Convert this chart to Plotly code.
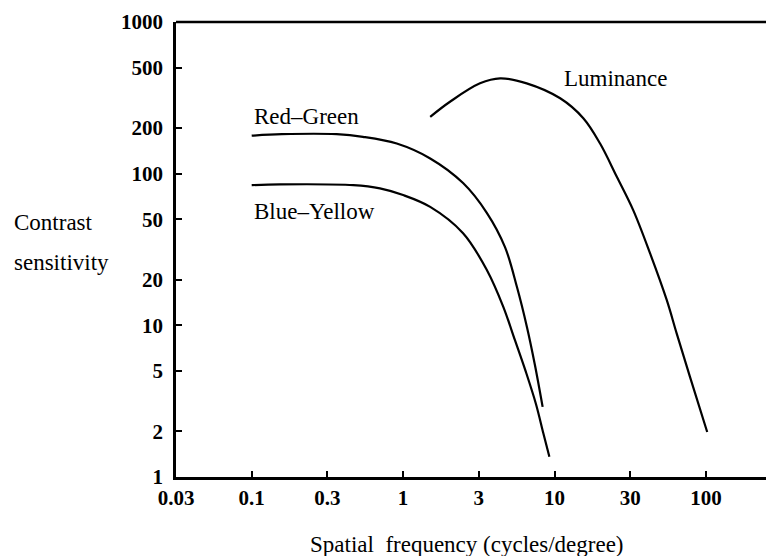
import plotly.graph_objects as go

# Data (spatial frequency in cycles/degree, contrast sensitivity)
rg_freq = [0.1, 0.158, 0.364, 0.543, 0.908, 1.51, 2.49, 3.58, 4.71, 5.65, 6.58, 7.43, 8.35]
rg_sens = [178, 182, 182, 175, 158, 126, 86.7, 55, 32.8, 17.9, 9.73, 5.46, 2.90]

by_freq = [0.1, 0.154, 0.469, 0.703, 1.0, 1.51, 2.49, 3.58, 4.57, 5.48, 6.48, 7.55, 8.43, 9.25]
by_sens = [84, 85, 84, 80, 72.3, 60.4, 40.5, 23.1, 13.4, 7.98, 4.91, 3.02, 1.95, 1.36]

lum_freq = [1.51, 2.04, 3.22, 4.37, 6.55, 10.9, 15.5, 20.0, 25.8, 33.1, 42.8, 55.1, 64.1, 78.5, 102]
lum_sens = [237, 298, 394, 425, 394, 314, 232, 158, 95.4, 57.5, 29.8, 14.7, 8.85, 4.57, 1.98]

x_tickvals = [10 ** (k / 2) for k in range(-3, 5)]
x_ticktext = ["0.03", "0.1", "0.3", "1", "3", "10", "30", "100"]
y_tickvals = [1, 2, 5, 10, 20, 50, 100, 200, 500, 1000]
y_ticktext = ["1", "2", "5", "10", "20", "50", "100", "200", "500", "1000"]

FONT = "Liberation Serif, Times New Roman, serif"

fig = go.Figure()
for fx, fy, name in [(rg_freq, rg_sens, "Red-Green"), (by_freq, by_sens, "Blue-Yellow"),
                     (lum_freq, lum_sens, "Luminance")]:
    fig.add_trace(go.Scatter(x=fx, y=fy, mode="lines", name=name,
                             line=dict(color="black", width=2.2, shape="spline", smoothing=1.0)))

# page body has an 8px margin; compensate so the plot lands where the reference has it
OFF = 8
W, H = 774 - OFF, 556 - OFF
L, R, T = 176 - OFF, 0, 22 - OFF
B = H - T - (477 - 22)
fig.update_layout(
    width=W, height=H,
    margin=dict(l=L, r=R, t=T, b=B, pad=0),
    paper_bgcolor="white", plot_bgcolor="white",
    showlegend=False,
    font=dict(family=FONT, color="black"),
)
fig.update_xaxes(
    type="log", range=[-1.5, -1.5 + (W - L) / 151.4],
    tickvals=x_tickvals, ticktext=x_ticktext,
    ticks="inside", ticklen=6, tickwidth=2, tickcolor="black",
    showline=True, linecolor="black", linewidth=2.5,
    showgrid=False, zeroline=False,
    tickfont=dict(family=FONT, size=21, color="black", weight="bold"),
    ticklabelstandoff=0,
)
fig.update_yaxes(
    type="log", range=[0, 3],
    tickvals=y_tickvals, ticktext=y_ticktext,
    ticks="inside", ticklen=6, tickwidth=2, tickcolor="black",
    showline=True, linecolor="black", linewidth=2.5,
    showgrid=False, zeroline=False,
    tickfont=dict(family=FONT, size=21, color="black", weight="bold"),
    ticklabelstandoff=6,
)
# top frame line
fig.add_shape(type="line", xref="paper", yref="paper", x0=0, x1=1, y0=1, y1=1,
              line=dict(color="black", width=2.5))

ann_font = dict(family=FONT, size=23, color="black")
fig.add_annotation(x=-1.0, y=2.375, xref="x", yref="y", text="Red–Green", showarrow=False,
                   xanchor="left", yanchor="middle", font=ann_font)
fig.add_annotation(x=-1.0, y=1.749, xref="x", yref="y", text="Blue–Yellow", showarrow=False,
                   xanchor="left", yanchor="middle", font=ann_font)
fig.add_annotation(x=1.048, y=2.629, xref="x", yref="y", text="Luminance", showarrow=False,
                   xanchor="left", yanchor="middle", font=ann_font)

# axis titles (positions given in reference pixels)
def px_x(p):
    return (p - OFF - L) / (W - L - R)

def px_y(p):
    return 1 - (p - OFF - T) / (H - T - B)

fig.add_annotation(x=px_x(12), y=px_y(222), xref="paper", yref="paper", text="Contrast",
                   showarrow=False, xanchor="left", yanchor="middle", font=ann_font)
fig.add_annotation(x=px_x(12), y=px_y(262), xref="paper", yref="paper", text="sensitivity",
                   showarrow=False, xanchor="left", yanchor="middle", font=ann_font)
fig.add_annotation(x=px_x(467), y=px_y(544), xref="paper", yref="paper",
                   text="Spatial\u00a0 frequency (cycles/degree)",
                   showarrow=False, xanchor="center", yanchor="middle", font=ann_font)

fig.write_html("out.html")
